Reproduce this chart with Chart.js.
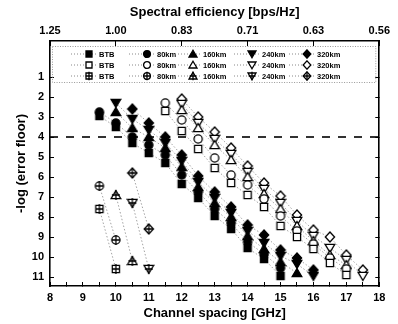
<!DOCTYPE html>
<html>
<head>
<meta charset="utf-8">
<script src="https://cdn.jsdelivr.net/npm/chart.js@4"></script>
<style>
  body { margin: 0; background: #fff; }
  canvas { display: block; }
</style>
</head>
<body>
<canvas id="grafico" width="398" height="324"></canvas>
<script>
// channel spacing grid [GHz], one column per measurement
const channelSpacing = [9.5, 10, 10.5, 11, 11.5, 12, 12.5, 13, 13.5, 14, 14.5, 15, 15.5, 16, 16.5, 17, 17.5];

// filled markers
const solidBtb = [2.95, 3.5, 4.3, 4.8, 5.3, 6.35, 7.05, 7.95, 8.6, 9.55, 10.1, 10.95, null, null, null, null, null];
const solid80 = [2.75, 3.3, 4.0, 4.4, 4.9, 5.9, 6.75, 7.6, 8.3, 9.25, 9.85, 10.55, null, null, null, null, null];
const solid160 = [null, 2.75, 3.55, 4.0, 4.55, 5.5, 6.5, 7.3, 8.0, 8.95, 9.6, 10.25, 10.8, null, null, null, null];
const solid240 = [null, 2.3, 3.1, 3.65, 4.3, 5.2, 6.25, 7.05, 7.8, 8.7, 9.3, 9.95, 10.35, 10.95, null, null, null];
const solid320 = [null, null, 2.6, 3.3, 4.0, 4.9, 5.95, 6.75, 7.5, 8.4, 8.9, 9.65, 10.05, 10.65, null, null, null];

// open markers
const openBtb = [null, null, null, null, 2.7, 3.7, 4.6, 5.55, 6.3, 6.9, 7.5, 8.45, 9.0, 9.6, 10.3, 10.9, null];
const open80 = [null, null, null, null, 2.3, 3.15, 4.1, 5.05, 5.9, 6.4, 7.1, 7.95, 8.7, 9.35, 10.05, 10.6, null];
const open160 = [null, null, null, null, null, 2.65, 3.55, 4.4, 5.15, 6.0, 6.85, 7.6, 8.45, 9.2, 9.9, 10.4, null];
const open240 = [null, null, null, null, null, 2.35, 3.3, 4.1, 4.85, 5.75, 6.6, 7.3, 8.2, 8.95, 9.55, 10.15, 10.95];
const open320 = [null, null, null, null, null, 2.1, 3.0, 3.75, 4.55, 5.45, 6.3, 6.95, 7.9, 8.65, 9.0, 9.9, 10.65];

// crossed markers
const crossBtb = [7.6, 10.6, null, null, null, null, null, null, null, null, null, null, null, null, null, null, null];
const cross80 = [6.45, 9.15, null, null, null, null, null, null, null, null, null, null, null, null, null, null, null];
const cross160 = [null, 6.9, 10.2, null, null, null, null, null, null, null, null, null, null, null, null, null, null];
const cross240 = [null, null, 7.3, 10.6, null, null, null, null, null, null, null, null, null, null, null, null, null];
const cross320 = [null, null, 5.8, 8.6, null, null, null, null, null, null, null, null, null, null, null, null, null];

const distanze = ['BTB', '80km', '160km', '240km', '320km'];
const forme = ['square', 'circle', 'triangle', 'down', 'diamond'];

const soglia = 4;
const yTicks = [1, 2, 3, 4, 5, 6, 7, 8, 9, 10, 11];
const spacingLabels = [8, 9, 10, 11, 12, 13, 14, 15, 16, 17, 18];
const efficiencyPos = [8, 10, 12, 14, 16, 18];
const efficiencyLabels = ['1.25', '1.00', '0.83', '0.71', '0.63', '0.56'];

const FONT = "'Liberation Sans', Arial, sans-serif";

function creaMarker(forma, stile, dim) {
    const s = dim || 12;
    const c = document.createElement('canvas');
    c.width = s; c.height = s;
    const g = c.getContext('2d');
    const m = s / 2;
    const k = s / 12;
    g.lineWidth = 1.3;
    g.strokeStyle = '#000';
    g.fillStyle = stile === 'pieno' ? '#000' : '#fff';
    g.beginPath();
    if (forma === 'square') {
        g.rect(m - 3.6 * k, m - 3.6 * k, 7.2 * k, 7.2 * k);
    } else if (forma === 'circle') {
        g.arc(m, m, 4.1 * k, 0, Math.PI * 2);
    } else if (forma === 'triangle') {
        g.moveTo(m, m - 4.5 * k); g.lineTo(m + 4.8 * k, m + 3.6 * k); g.lineTo(m - 4.8 * k, m + 3.6 * k); g.closePath();
    } else if (forma === 'down') {
        g.moveTo(m, m + 4.5 * k); g.lineTo(m + 4.8 * k, m - 3.6 * k); g.lineTo(m - 4.8 * k, m - 3.6 * k); g.closePath();
    } else {
        g.moveTo(m, m - 5 * k); g.lineTo(m + 4.6 * k, m); g.lineTo(m, m + 5 * k); g.lineTo(m - 4.6 * k, m); g.closePath();
    }
    g.fill();
    g.stroke();
    if (stile === 'croce') {
        g.beginPath();
        g.moveTo(m, m - 5 * k); g.lineTo(m, m + 5 * k);
        g.moveTo(m - 4 * k, m); g.lineTo(m + 4 * k, m);
        g.stroke();
    }
    return c;
}

function punti(valori) {
    return channelSpacing
        .map((x, i) => ({ x: x, y: valori[i] }))
        .filter(p => p.y !== null);
}

const gruppi = [
    { stile: 'pieno', serie: [solidBtb, solid80, solid160, solid240, solid320] },
    { stile: 'vuoto', serie: [openBtb, open80, open160, open240, open320] },
    { stile: 'croce', serie: [crossBtb, cross80, cross160, cross240, cross320] }
];

const datasets = [];
gruppi.forEach(gr => {
    gr.serie.forEach((valori, i) => {
        datasets.push({
            label: distanze[i],
            data: punti(valori),
            showLine: true,
            borderColor: '#8c8c8c',
            borderWidth: 0.8,
            borderDash: [1.5, 2],
            pointStyle: creaMarker(forme[i], gr.stile),
            pointRadius: 5,
            pointHoverRadius: 5
        });
    });
});

// linea tratteggiata di soglia
datasets.push({
    label: 'soglia',
    data: [{ x: 8, y: soglia }, { x: 18, y: soglia }],
    showLine: true,
    borderColor: '#000',
    borderWidth: 1.6,
    borderDash: [8, 8],
    pointRadius: 0
});

const legendaBox = {
    id: 'legendaBox',
    afterDraw(chart) {
        const { ctx, chartArea: a } = chart;
        const colX = [39, 97, 143, 202, 257];
        const rowY = [13, 24, 35];
        const stili = ['pieno', 'vuoto', 'croce'];
        ctx.save();
        ctx.setLineDash([1, 1.5]);
        ctx.strokeStyle = '#999';
        ctx.lineWidth = 1;
        ctx.strokeRect(a.left + 2.5, a.top + 5.5, a.right - a.left - 6, 36);
        ctx.font = 'bold 7.5px ' + FONT;
        ctx.textBaseline = 'middle';
        ctx.fillStyle = '#000';
        stili.forEach((st, r) => {
            const y = a.top + rowY[r];
            forme.forEach((f, c) => {
                const x = a.left + colX[c];
                ctx.setLineDash([1, 2]);
                ctx.strokeStyle = '#888';
                ctx.beginPath();
                ctx.moveTo(x - 18, y);
                ctx.lineTo(x + 8, y);
                ctx.stroke();
                const mk = creaMarker(f, st, 10);
                ctx.drawImage(mk, x - 5, y - 5);
                ctx.fillText(distanze[c], x + 10, y + 0.5);
            });
        });
        ctx.restore();
    }
};

const tickFont = { family: FONT, size: 11, weight: 'bold' };
const titleFont = { family: FONT, size: 13, weight: 'bold' };

new Chart(document.getElementById('grafico'), {
    type: 'scatter',
    data: { datasets: datasets },
    options: {
        responsive: false,
        animation: false,
        devicePixelRatio: 1,
        layout: { padding: 0 },
        plugins: {
            legend: { display: false },
            tooltip: { enabled: false }
        },
        scales: {
            x: {
                type: 'linear',
                position: 'bottom',
                min: 8,
                max: 18,
                afterBuildTicks: (scale) => {
                    const t = [];
                    spacingLabels.forEach((v, i) => {
                        t.push({ value: v });
                        if (i < spacingLabels.length - 1) t.push({ value: v + 0.5 });
                    });
                    scale.ticks = t;
                },
                afterFit: (scale) => { scale.height = 38; },
                ticks: {
                    autoSkip: false,
                    maxRotation: 0,
                    padding: 9,
                    color: '#000',
                    font: tickFont,
                    callback: (v) => spacingLabels.includes(v) ? String(v) : ''
                },
                grid: { drawOnChartArea: false, tickLength: -4, color: '#000', tickWidth: 1 },
                border: { color: '#000', width: 1.6 },
                title: { display: true, text: 'Channel spacing [GHz]', color: '#000', font: titleFont, padding: { bottom: 3 } }
            },
            xTop: {
                type: 'linear',
                position: 'top',
                min: 8,
                max: 18,
                afterBuildTicks: (scale) => {
                    scale.ticks = efficiencyPos.map(v => ({ value: v }));
                },
                afterFit: (scale) => { scale.height = 41; },
                ticks: {
                    autoSkip: false,
                    maxRotation: 0,
                    padding: 8,
                    color: '#000',
                    font: tickFont,
                    callback: (v) => efficiencyLabels[efficiencyPos.indexOf(v)]
                },
                grid: { drawOnChartArea: false, tickLength: -5, color: '#000', tickWidth: 1 },
                border: { color: '#000', width: 1.6 },
                title: { display: true, text: 'Spectral efficiency [bps/Hz]', color: '#000', font: titleFont, padding: { top: 5 } }
            },
            y: {
                type: 'linear',
                position: 'left',
                reverse: true,
                min: -0.8,
                max: 11.45,
                afterBuildTicks: (scale) => {
                    scale.ticks = yTicks.map(v => ({ value: v }));
                },
                afterFit: (scale) => { scale.width = 50; },
                ticks: { padding: 10, color: '#000', font: tickFont },
                grid: { drawOnChartArea: false, tickLength: -4, color: '#000', tickWidth: 1 },
                border: { color: '#000', width: 1.6 },
                title: { display: true, text: '-log (error floor)', color: '#000', font: titleFont, padding: { top: 14 } }
            },
            yRight: {
                type: 'linear',
                position: 'right',
                reverse: true,
                min: -0.8,
                max: 11.45,
                afterBuildTicks: (scale) => {
                    scale.ticks = yTicks.map(v => ({ value: v }));
                },
                afterFit: (scale) => { scale.width = 11; },
                ticks: { display: false },
                grid: { drawOnChartArea: false, tickLength: -4, color: '#000', tickWidth: 1 },
                border: { color: '#000', width: 1.6 }
            }
        }
    },
    plugins: [legendaBox]
});
</script>
</body>
</html>
